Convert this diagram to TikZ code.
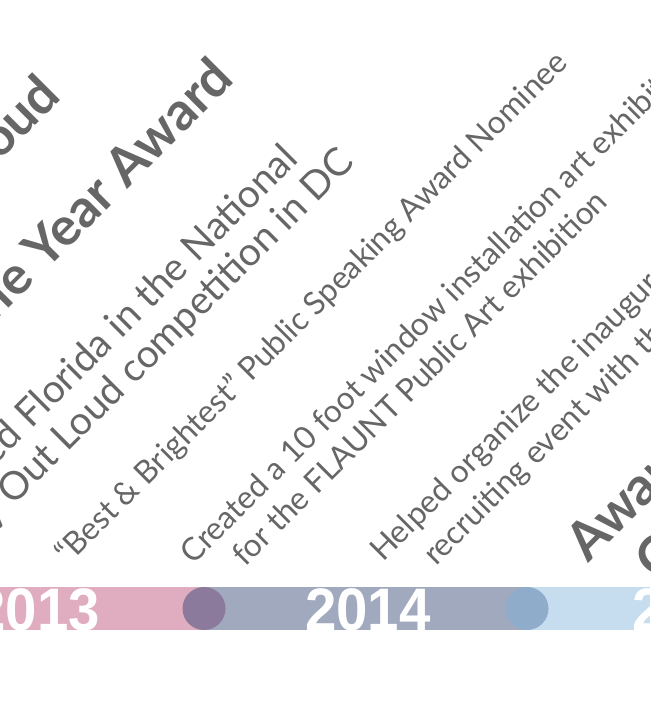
\documentclass[tikz,border=0pt]{standalone}
\usepackage{fontspec}
\setmainfont{Lato}
\newfontfamily\yearfont{Liberation Sans}
\definecolor{txtgray}{HTML}{666666}
\definecolor{pinkc}{HTML}{DFADBF}
\definecolor{slatec}{HTML}{A1A9BE}
\definecolor{skyc}{HTML}{C6DDF0}
\definecolor{purplec}{HTML}{8B7A9B}
\definecolor{bluec}{HTML}{8FADCB}
\tikzset{
  desc/.style={rotate=45, anchor=base west, inner sep=0pt, text=txtgray, font=\fontsize{31.7}{38}\selectfont},
  bigdesc/.style={rotate=45, anchor=base east, inner sep=0pt, text=txtgray, font=\fontsize{39}{46}\selectfont},
  ttl/.style={rotate=45, inner sep=0pt, text=txtgray, font=\bfseries\fontsize{53}{60}\selectfont},
  yr/.style={inner sep=0pt, text=white, font=\yearfont\bfseries\fontsize{60}{60}\selectfont},
  dot/.style={circle, minimum size=43pt, inner sep=0pt},
}
\begin{document}
\begin{tikzpicture}[x=1pt,y=-1pt]
\useasboundingbox (0,0) rectangle (650,708);
\clip (0,0) rectangle (650,708);
% titles
\node[ttl, anchor=base east] (t1) at (63,98) {Poetry Out Loud};
\node[ttl, anchor=base east] (t2) at (236,81) {of the Year Award};
\node[ttl, anchor=base west] (t3) at (588,564) {Award};
\node[ttl, anchor=base west] (t4) at (657,583) {C};
% descriptions
\node[bigdesc] (c) at (300,161) {Represented Florida in the National};
\node[bigdesc] (d) at (356,164) {Poetry Out Loud competition in DC};
\node[desc] (e) at (68,566) {“Best \& Brightest” Public Speaking Award Nominee};
\node[desc] (f) at (193,566) {Created a 10 foot window installation art exhibit};
\node[desc] (g) at (245,568) {for the FLAUNT Public Art exhibition};
\node[desc] (h) at (383,563) {Helped organize the inaugural};
\node[desc] (i) at (436,567) {recruiting event with the};
% bar
\fill[pinkc] (0,587) rectangle (204,630);
\fill[slatec] (204,587) rectangle (527,630);
\fill[skyc] (527,587) rectangle (650,630);
\begin{scope}
\clip (0,587) rectangle (650,630);
\node[yr, anchor=base east] (y13) at (100,630) {\scalebox{0.94}[1]{2013}};
\node[yr, anchor=base west] (y14) at (305,630) {\scalebox{0.94}[1]{2014}};
\node[yr, anchor=base west] (y15) at (632,630) {\scalebox{0.94}[1]{2015}};
\end{scope}
\node[dot, fill=purplec] (m1) at (204,608.5) {};
\node[dot, fill=bluec] (m2) at (527,608.5) {};
\end{tikzpicture}
\end{document}
